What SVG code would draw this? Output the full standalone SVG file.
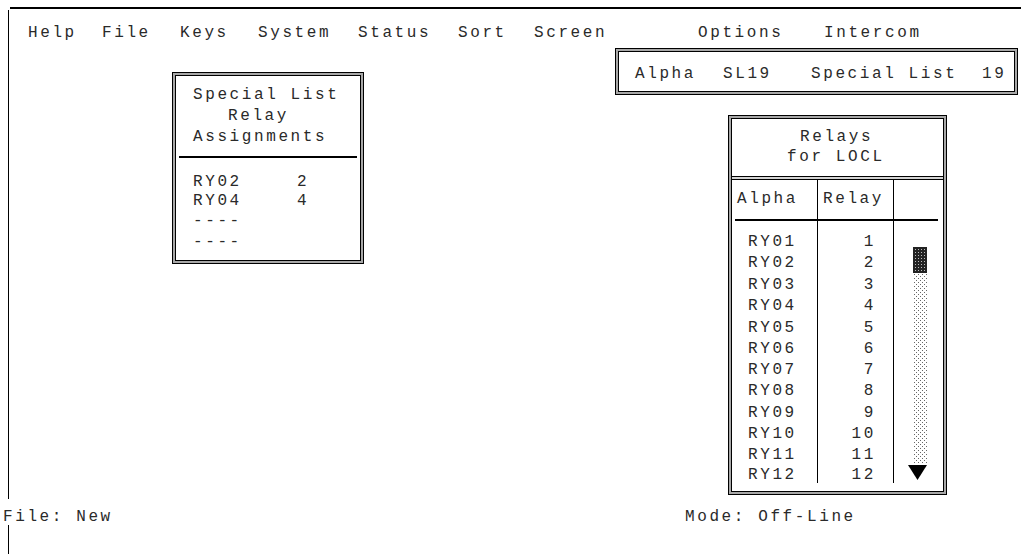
<svg xmlns="http://www.w3.org/2000/svg" width="1021" height="554" viewBox="0 0 1021 554">
<style>
text{font-family:"Liberation Mono","Courier New",monospace;font-size:16px;fill:#2a2a2a;letter-spacing:2.6px}
.fo{fill:none;stroke:#000;stroke-width:1}
.fg{fill:none;stroke:#a8a8a8;stroke-width:2}
.ln{stroke:#000;fill:none}
</style>
<defs>
<pattern id="dark" width="3" height="3" patternUnits="userSpaceOnUse">
<rect width="3" height="3" fill="#222"/><rect x="0" y="0" width="1" height="1" fill="#bbb"/>
</pattern>
<pattern id="light" width="4" height="4" patternUnits="userSpaceOnUse">
<rect width="4" height="4" fill="#fff"/><rect x="0" y="0" width="1" height="1" fill="#666"/><rect x="2" y="2" width="1" height="1" fill="#666"/>
</pattern>
</defs>
<rect width="1021" height="554" fill="#fff"/>
<g id="screen-frame">
<line class="ln" x1="10" y1="8" x2="1021" y2="8" stroke-width="2"/>
<line class="ln" x1="8.5" y1="10" x2="8.5" y2="499"/>
<line class="ln" x1="8.5" y1="525" x2="8.5" y2="554"/>
</g>
<g id="menu">
<text x="28" y="37">Help</text>
<text x="102" y="37">File</text>
<text x="180" y="37">Keys</text>
<text x="258" y="37">System</text>
<text x="358" y="37">Status</text>
<text x="458" y="37">Sort</text>
<text x="534" y="37">Screen</text>
<text x="698" y="37">Options</text>
<text x="824" y="37">Intercom</text>
</g>
<g id="title-box">
<rect class="fg" x="617" y="50" width="399" height="43"/>
<rect class="fo" x="615.5" y="48.5" width="402" height="46"/>
<rect class="fo" x="618.5" y="51.5" width="396" height="40"/>
<text x="635" y="78">Alpha</text>
<text x="723" y="78">SL19</text>
<text x="811" y="78">Special List</text>
<text x="982" y="78">19</text>
</g>
<g id="assignments-box">
<rect class="fg" x="174" y="74" width="188" height="188"/>
<rect class="fo" x="172.5" y="72.5" width="191" height="191"/>
<rect class="fo" x="175.5" y="75.5" width="185" height="185"/>
<text x="193" y="99">Special List</text>
<text x="228" y="120">Relay</text>
<text x="193" y="141">Assignments</text>
<line class="ln" x1="179" y1="157" x2="357" y2="157" stroke-width="2"/>
<text x="193" y="186">RY02</text>
<text x="297" y="186">2</text>
<text x="193" y="205">RY04</text>
<text x="297" y="205">4</text>
<text x="193" y="225">----</text>
<text x="193" y="246">----</text>
</g>
<g id="relays-box">
<rect class="fg" x="730" y="117" width="215" height="376"/>
<rect class="fo" x="728.5" y="115.5" width="218" height="379"/>
<rect class="fo" x="731.5" y="118.5" width="212" height="373"/>
<text x="800" y="141">Relays</text>
<text x="787" y="161">for LOCL</text>
<line class="ln" x1="732" y1="176.5" x2="943" y2="176.5"/>
<line x1="732" y1="178" x2="943" y2="178" stroke="#a8a8a8" stroke-width="1"/>
<line class="ln" x1="732" y1="179.5" x2="943" y2="179.5"/>
<line class="ln" x1="817.5" y1="180" x2="817.5" y2="483"/>
<line class="ln" x1="893.5" y1="180" x2="893.5" y2="483"/>
<text x="737" y="203">Alpha</text>
<text x="823" y="203">Relay</text>
<line class="ln" x1="735" y1="220" x2="938" y2="220" stroke-width="2"/>
<g id="alpha-col">
<text x="748" y="246">RY01</text>
<text x="748" y="267">RY02</text>
<text x="748" y="289">RY03</text>
<text x="748" y="310">RY04</text>
<text x="748" y="332">RY05</text>
<text x="748" y="353">RY06</text>
<text x="748" y="374">RY07</text>
<text x="748" y="395">RY08</text>
<text x="748" y="417">RY09</text>
<text x="748" y="438">RY10</text>
<text x="748" y="459">RY11</text>
<text x="748" y="479">RY12</text>
</g>
<g id="relay-col" text-anchor="end">
<text x="876" y="246">1</text>
<text x="876" y="267">2</text>
<text x="876" y="289">3</text>
<text x="876" y="310">4</text>
<text x="876" y="332">5</text>
<text x="876" y="353">6</text>
<text x="876" y="374">7</text>
<text x="876" y="395">8</text>
<text x="876" y="417">9</text>
<text x="876" y="438">10</text>
<text x="876" y="459">11</text>
<text x="876" y="479">12</text>
</g>
<g id="scrollbar">
<rect x="913" y="273" width="14" height="190" fill="url(#light)"/>
<rect x="913" y="247" width="14" height="26" fill="url(#dark)"/>
<polygon points="908,465 927,465 917.5,480" fill="#000"/>
</g>
</g>
<g id="status">
<text x="3" y="521">File: New</text>
<text x="685" y="521">Mode: Off-Line</text>
</g>
</svg>
